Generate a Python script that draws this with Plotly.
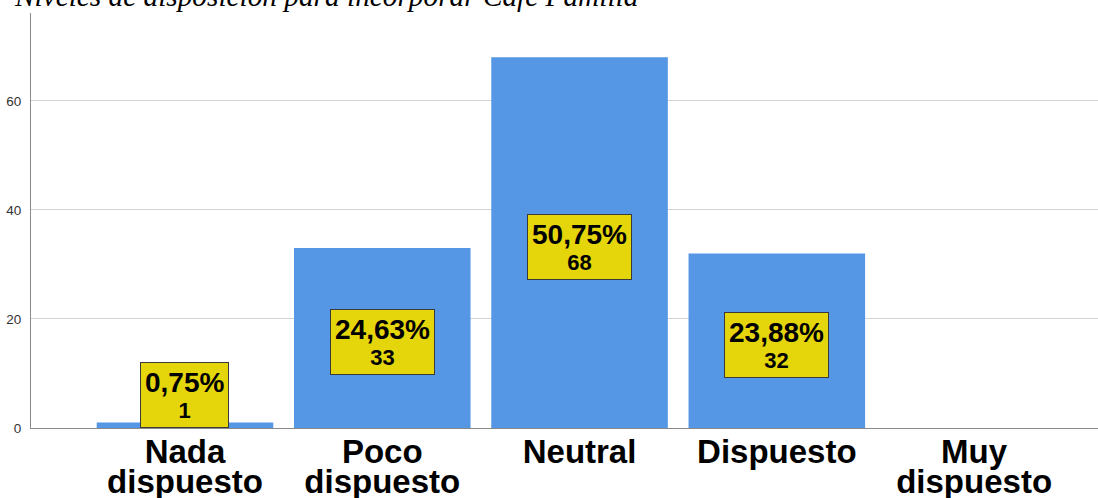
import plotly.graph_objects as go

# Survey results: willingness levels
categories = ["Nada dispuesto", "Poco dispuesto", "Neutral", "Dispuesto", "Muy dispuesto"]
tick_lines = [["Nada", "dispuesto"], ["Poco", "dispuesto"], ["Neutral"], ["Dispuesto"], ["Muy", "dispuesto"]]
counts = [1, 33, 68, 32, 0]
percents = [0.75, 24.63, 50.75, 23.88, 0.0]
y_ticks = [0, 20, 40, 60]
title_text = "Niveles de disposición para incorporar Café Familia"

BAR_COLOR = "#5596E5"
LABEL_BG = "#E5D50B"
AXIS_COLOR = "#8a8a8a"
GRID_COLOR = "#d3d3d3"
SANS = "Liberation Sans, Arial, sans-serif"

# tick text: large glyphs with a tight line spacing
ticktext = [
    "<br>".join(f'<span style="font-size:33px">{w}</span>' for w in lines)
    for lines in tick_lines
]

fig = go.Figure(
    go.Bar(
        x=categories,
        y=counts,
        marker=dict(color=BAR_COLOR, line=dict(width=0)),
        hoverinfo="x+y",
    )
)

# value boxes: percentage over count, centred in the bar
label_half_height = 6.0  # data units; short bars get the box resting on the baseline
for cat, c, p in zip(categories, counts, percents):
    if c <= 0:
        continue
    pct = f"{p:.2f}".replace(".", ",") + "%"
    txt = (f'<span style="font-size:28px">{pct}</span><br>'
           f'<span style="font-size:22px">{c}</span>')
    if c / 2 < label_half_height:
        y, anchor, shift = 0, "bottom", 0
    else:
        y, anchor, shift = c / 2, "middle", -4
    fig.add_annotation(
        x=cat, y=y, xref="x", yref="y", yanchor=anchor, yshift=shift,
        text=txt, showarrow=False,
        font=dict(family=SANS, size=20, color="black", weight="bold"),
        bgcolor=LABEL_BG, bordercolor="#3a3a3a", borderwidth=1, borderpad=4,
        height=56, valign="middle",
    )

# chart heading, partly running off the top edge
fig.add_annotation(
    text=title_text, xref="paper", yref="paper",
    x=(12 - 31) / 1067, xanchor="left", y=1, yanchor="middle", yshift=17,
    showarrow=False,
    font=dict(family="Liberation Serif, Times New Roman, serif", size=29.3,
              color="black", style="italic"),
)

fig.update_layout(
    width=1098, height=498,
    margin=dict(l=31, r=0, t=13, b=70),
    paper_bgcolor="white", plot_bgcolor="white",
    bargap=0.105,
    showlegend=False,
    xaxis=dict(
        type="category",
        range=[-0.7805, 4.628],
        tickvals=categories, ticktext=ticktext,
        tickfont=dict(family=SANS, size=23, color="black", weight="bold"),
        showline=True, linecolor=AXIS_COLOR, linewidth=1,
        showgrid=False, ticks="", ticklabelstandoff=6, automargin=False,
    ),
    yaxis=dict(
        range=[0, 76.1],
        tickvals=y_ticks,
        tickfont=dict(family=SANS, size=13.5, color="#333333"),
        showline=True, linecolor=AXIS_COLOR, linewidth=1,
        showgrid=True, gridcolor=GRID_COLOR, gridwidth=1,
        zeroline=False, ticks="", ticklabelstandoff=6, automargin=False,
    ),
)

fig.write_html("out.html")
